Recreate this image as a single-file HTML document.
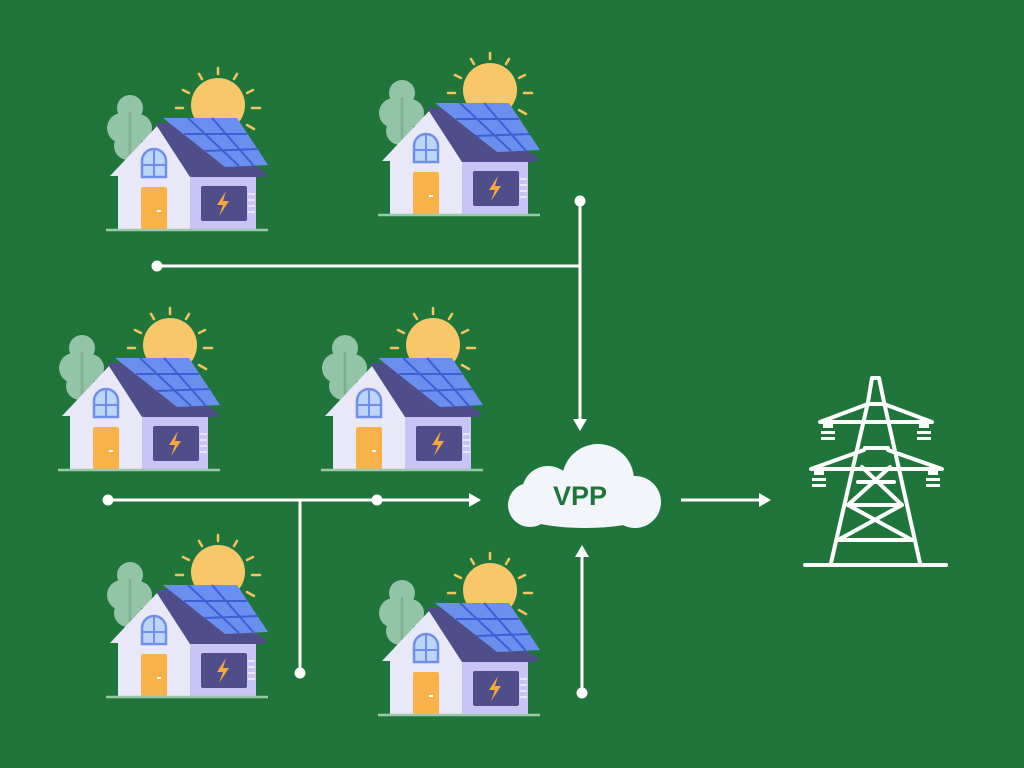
<!DOCTYPE html>
<html><head><meta charset="utf-8"><style>
html,body{margin:0;padding:0;background:#20763a;width:1024px;height:768px;overflow:hidden}
</style></head><body>
<svg width="1024" height="768" viewBox="0 0 1024 768" xmlns="http://www.w3.org/2000/svg">
<defs>
<g id="house">
  <g stroke="#f7c35f" stroke-width="2.5" stroke-linecap="round">
    <line x1="118" y1="8" x2="118" y2="14"/><line x1="99" y1="14" x2="102" y2="19"/><line x1="137" y1="14" x2="134" y2="19"/>
    <line x1="83" y1="30" x2="89" y2="33"/><line x1="153" y1="30" x2="147" y2="33"/>
    <line x1="76" y1="48" x2="83" y2="48"/><line x1="152" y1="48" x2="160" y2="48"/>
    <line x1="147" y1="65" x2="154" y2="69"/>
  </g>
  <circle cx="118" cy="45" r="27" fill="#f7c76a"/>
  <circle cx="30" cy="48" r="13" fill="#93c4a5"/>
  <circle cx="22" cy="68" r="15" fill="#93c4a5"/>
  <circle cx="38" cy="68" r="14" fill="#93c4a5"/>
  <circle cx="28" cy="86" r="14" fill="#93c4a5"/>
  <line x1="30" y1="52" x2="30" y2="95" stroke="#7fae90" stroke-width="2.5"/>
  <polygon points="10,116 58,65 92,100 92,170 18,170 18,116" fill="#e9e8f8"/>
  <rect x="90" y="114" width="66" height="56" fill="#c8c4f5"/>
  <polygon points="55,63 68,63 166,112 165,117 90,117" fill="#4f4e8a"/>
  <polygon points="63,58 137,58 168,105 125,107" fill="#6b8fef"/>
  <g stroke="#3d5fd6" stroke-width="2">
    <line x1="88" y1="58" x2="139" y2="106"/><line x1="112" y1="58" x2="154" y2="106"/>
    <line x1="84" y1="74" x2="147" y2="74"/><line x1="104" y1="91" x2="158" y2="89"/>
  </g>
  <rect x="101" y="126" width="46" height="35" rx="2" fill="#4f4e8a"/>
  <polygon points="126,131 117,145 123,145 119,156 129,141 123,141" fill="#f7a93a"/>
  <g stroke="#e9e8f8" stroke-width="2"><line x1="148" y1="134" x2="155" y2="134"/><line x1="148" y1="140" x2="155" y2="140"/><line x1="148" y1="146" x2="155" y2="146"/><line x1="148" y1="152" x2="155" y2="152"/></g>
  <rect x="41" y="127" width="26" height="43" rx="2" fill="#f9b24a"/>
  <rect x="57" y="150" width="4" height="2" fill="#fff"/>
  <path d="M42,117 V101 A12,12 0 0 1 66,101 V117 Z" fill="#bcd6fb" stroke="#6f8fe8" stroke-width="2.5"/>
  <line x1="54" y1="90" x2="54" y2="117" stroke="#6f8fe8" stroke-width="2"/>
  <line x1="42" y1="105" x2="66" y2="105" stroke="#6f8fe8" stroke-width="2"/>
  <line x1="6" y1="170" x2="168" y2="170" stroke="#9cc7a8" stroke-width="2.5"/>
</g>
</defs>
<use href="#house" x="100" y="60"/>
<use href="#house" x="372" y="45"/>
<use href="#house" x="52" y="300"/>
<use href="#house" x="315" y="300"/>
<use href="#house" x="100" y="527"/>
<use href="#house" x="372" y="545"/>
<g stroke="#fff" stroke-width="3" fill="none">
  <line x1="580" y1="201" x2="580" y2="420"/>
  <line x1="157" y1="266" x2="580" y2="266"/>
  <line x1="108" y1="500" x2="470" y2="500"/>
  <line x1="300" y1="500" x2="300" y2="673"/>
  <line x1="582" y1="693" x2="582" y2="556"/>
  <line x1="681" y1="500" x2="760" y2="500"/>
</g>
<g fill="#fff">
  <circle cx="580" cy="201" r="5.5"/><circle cx="157" cy="266" r="5.5"/><circle cx="108" cy="500" r="5.5"/>
  <circle cx="377" cy="500" r="5.5"/><circle cx="300" cy="673" r="5.5"/><circle cx="582" cy="693" r="5.5"/>
  <polygon points="573,419 587,419 580,431"/>
  <polygon points="469,493 469,507 481,500"/>
  <polygon points="575,557 589,557 582,545"/>
  <polygon points="759,493 759,507 771,500"/>
</g>
<g fill="#f2f6fb">
  <circle cx="598" cy="480" r="36"/>
  <circle cx="548" cy="492" r="26"/>
  <circle cx="530" cy="505" r="22"/>
  <circle cx="635" cy="502" r="26"/>
  <ellipse cx="585" cy="510" rx="70" ry="18"/>
</g>
<text x="580" y="505" text-anchor="middle" font-family="Liberation Sans, sans-serif" font-weight="bold" font-size="27" fill="#20763a">VPP</text>
<g stroke="#fff" stroke-width="4" fill="none" stroke-linejoin="round" stroke-linecap="round">
  <path d="M868,402 L872,378 L879,378 L884,402"/>
  <line x1="805" y1="565" x2="946" y2="565"/>
  <path d="M868,402 L831,563"/><path d="M884,402 L920,563"/>
  <line x1="868" y1="404" x2="884" y2="404"/>
  <path d="M868,404 L820,422 L932,422 L884,404"/>
  <line x1="865" y1="448" x2="888" y2="448"/>
  <path d="M864,450 L811,469 L942,469 L888,450"/>
  <line x1="858" y1="482" x2="894" y2="482"/>
  <path d="M862,467 L902,505 L838,540 L912,540 L848,505 L890,467"/>
  <line x1="848" y1="505" x2="902" y2="505"/>
</g>
<g fill="#fff">
  <rect x="823" y="424" width="10" height="4"/><rect x="821" y="431" width="14" height="3"/><rect x="821" y="437" width="14" height="3"/>
  <rect x="919" y="424" width="10" height="4"/><rect x="917" y="431" width="14" height="3"/><rect x="917" y="437" width="14" height="3"/>
  <rect x="814" y="471" width="10" height="4"/><rect x="812" y="478" width="14" height="3"/><rect x="812" y="484" width="14" height="3"/>
  <rect x="928" y="471" width="10" height="4"/><rect x="926" y="478" width="14" height="3"/><rect x="926" y="484" width="14" height="3"/>
</g>
</svg>
</body></html>
